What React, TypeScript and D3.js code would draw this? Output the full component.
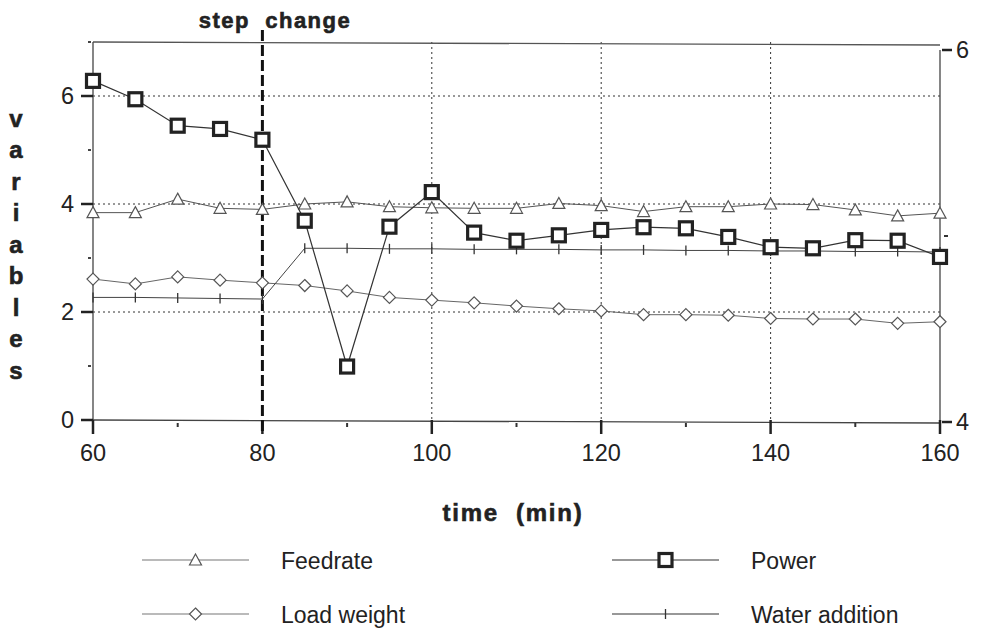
import React from "react";
import * as d3 from "d3";

const times = [60, 65, 70, 75, 80, 85, 90, 95, 100, 105, 110, 115, 120, 125, 130, 135, 140, 145, 150, 155, 160];
const power = [6.28, 5.94, 5.45, 5.39, 5.19, 3.69, 0.99, 3.58, 4.22, 3.47, 3.32, 3.42, 3.52, 3.57, 3.55, 3.39, 3.2, 3.18, 3.33, 3.32, 3.02];
const feedrate = [3.84, 3.84, 4.09, 3.92, 3.9, 4.0, 4.04, 3.95, 3.93, 3.92, 3.92, 4.01, 3.97, 3.86, 3.95, 3.95, 4.0, 3.99, 3.89, 3.78, 3.83];
const loadWeight = [2.61, 2.52, 2.65, 2.59, 2.54, 2.49, 2.39, 2.27, 2.22, 2.17, 2.11, 2.06, 2.02, 1.95, 1.95, 1.94, 1.88, 1.87, 1.87, 1.79, 1.82];
const waterAddition = [2.27, 2.27, 2.26, 2.25, 2.24, 3.18, 3.18, 3.17, 3.17, 3.16, 3.16, 3.16, 3.15, 3.15, 3.14, 3.14, 3.13, 3.13, 3.12, 3.12, 3.11];

const xTicksMajor = [60, 80, 100, 120, 140, 160];
const xTicksMinor = [70, 90, 110, 130, 150];
const yTicksMajor = [0, 2, 4, 6];
const yTicksMinor = [1, 3, 5, 7];
const yGrid = [2, 4, 6];
const xGrid = [100, 120, 140];
const rightTicks = [4, 6];
const stepTime = 80;
const yLabelLetters = ["v", "a", "r", "i", "a", "b", "l", "e", "s"];

const legendItems = [
  { name: "Feedrate", marker: "triangle", col: 0, row: 0 },
  { name: "Power", marker: "square", col: 1, row: 0 },
  { name: "Load weight", marker: "diamond", col: 0, row: 1 },
  { name: "Water addition", marker: "tick", col: 1, row: 1 },
];

const FONT = "'Liberation Sans', Arial, Helvetica, sans-serif";

function Marker({ type, x, y }: { type: string; x: number; y: number }) {
  if (type === "square")
    return <rect x={x - 6.5} y={y - 6.5} width={13} height={13} fill="#fff" stroke="#222" strokeWidth={3.2} />;
  if (type === "triangle")
    return (
      <path d={`M${x},${y - 6}L${x + 6},${y + 5}L${x - 6},${y + 5}Z`} fill="#fff" stroke="#555" strokeWidth={1.2} />
    );
  if (type === "diamond")
    return (
      <path d={`M${x},${y - 6}L${x + 6},${y}L${x},${y + 6}L${x - 6},${y}Z`} fill="#fff" stroke="#555" strokeWidth={1.2} />
    );
  return <line x1={x} x2={x} y1={y - 5} y2={y + 5} stroke="#333" strokeWidth={1.3} />;
}

export default function App() {
  const W = 981, H = 632;
  const x = d3.scaleLinear().domain([60, 160]).range([93, 940]);
  const y = d3.scaleLinear().domain([0, 7]).range([420, 42]);
  const yR = d3.scaleLinear().domain([4, 6]).range([422, 50]);

  const line = d3
    .line<[number, number]>()
    .x((d) => x(d[0]))
    .y((d) => y(d[1]));

  const series = [
    { name: "Load weight", vals: loadWeight, marker: "diamond", stroke: "#666", w: 1 },
    { name: "Water addition", vals: waterAddition, marker: "tick", stroke: "#444", w: 1 },
    { name: "Feedrate", vals: feedrate, marker: "triangle", stroke: "#555", w: 1 },
    { name: "Power", vals: power, marker: "square", stroke: "#333", w: 1.2 },
  ];

  return (
    <svg width={W} height={H} style={{ display: "block", position: "absolute", left: 0, top: 0, background: "#fff" }} fontFamily={FONT}>
      <rect x={0} y={0} width={W} height={H} fill="#fff" />
      {yGrid.map((v) => (
        <line key={"yg" + v} x1={x(60)} x2={x(160)} y1={y(v)} y2={y(v)} stroke="#333" strokeWidth={1} strokeDasharray="2,3" />
      ))}
      {xGrid.map((v) => (
        <line key={"xg" + v} x1={x(v)} x2={x(v)} y1={y(7)} y2={y(0)} stroke="#333" strokeWidth={1} strokeDasharray="2,3" />
      ))}
      <line x1={x(60)} x2={x(160)} y1={y(7)} y2={y(7) + 3} stroke="#555" strokeWidth={1.3} />
      <line x1={x(60)} x2={x(160)} y1={y(0)} y2={y(0) + 3} stroke="#444" strokeWidth={1.3} />
      <line x1={x(60)} x2={x(60)} y1={y(7)} y2={y(0)} stroke="#444" strokeWidth={1.3} />
      <line x1={x(160)} x2={x(160)} y1={yR(6)} y2={y(0) + 3} stroke="#444" strokeWidth={1.3} />
      {yTicksMajor.map((v) => (
        <g key={"yt" + v}>
          <line x1={x(60) - 12} x2={x(60)} y1={y(v)} y2={y(v)} stroke="#222" strokeWidth={2.5} />
          <text x={x(60) - 19} y={y(v)} dy="0.36em" textAnchor="end" fontSize={23.5} fill="#222">
            {v}
          </text>
        </g>
      ))}
      {yTicksMinor.map((v) => (
        <line key={"ym" + v} x1={x(60) - 5} x2={x(60) - 2} y1={y(v)} y2={y(v)} stroke="#444" strokeWidth={2} />
      ))}
      {xTicksMajor.map((v) => (
        <g key={"xt" + v}>
          <line x1={x(v)} x2={x(v)} y1={y(0)} y2={y(0) + 14} stroke="#222" strokeWidth={2.5} />
          <text x={x(v)} y={y(0) + 33} dy="0.36em" textAnchor="middle" fontSize={23.5} fill="#222">
            {v}
          </text>
        </g>
      ))}
      {xTicksMinor.map((v) => (
        <line key={"xm" + v} x1={x(v)} x2={x(v)} y1={y(0) + 3} y2={y(0) + 7} stroke="#333" strokeWidth={2} />
      ))}
      {rightTicks.map((v) => (
        <g key={"rt" + v}>
          <line x1={x(160) + 2} x2={x(160) + 12} y1={yR(v)} y2={yR(v)} stroke="#222" strokeWidth={2.5} />
          <text x={x(160) + 16} y={yR(v)} dy="0.36em" textAnchor="start" fontSize={23.5} fill="#222">
            {v}
          </text>
        </g>
      ))}
      <line x1={x(160) + 4} x2={x(160) + 8} y1={yR(5)} y2={yR(5)} stroke="#333" strokeWidth={2} />
      <line x1={x(stepTime)} x2={x(stepTime)} y1={30} y2={y(0) + 12} stroke="#111" strokeWidth={3} strokeDasharray="11,4" />
      <text x={275} y={20} dy="0.36em" textAnchor="middle" fontSize={22} fontWeight="bold" letterSpacing={1.5} fill="#222" stroke="#222" strokeWidth={0.6} style={{ whiteSpace: "pre" }}>
        {"step  change"}
      </text>
      {series.map((s) => {
        const pts = times.map((t, i) => [t, s.vals[i]] as [number, number]);
        return (
          <g key={s.name}>
            <path d={line(pts) || ""} fill="none" stroke={s.stroke} strokeWidth={s.w} />
            {pts.map((p, i) => (
              <Marker key={i} type={s.marker} x={x(p[0])} y={y(p[1])} />
            ))}
          </g>
        );
      })}
      {yLabelLetters.map((c, i) => (
        <text key={"yl" + i} x={16} y={118 + i * 31.5} dy="0.36em" textAnchor="middle" fontSize={24} fontWeight="bold" fill="#222" stroke="#222" strokeWidth={0.6}>
          {c}
        </text>
      ))}
      <text x={513} y={512} dy="0.36em" textAnchor="middle" fontSize={24} fontWeight="bold" letterSpacing={1.8} fill="#222" stroke="#222" strokeWidth={0.6} style={{ whiteSpace: "pre" }}>
        {"time  (min)"}
      </text>
      {legendItems.map((it) => {
        const lx0 = it.col === 0 ? 142 : 612;
        const lx1 = lx0 + 107;
        const ly = it.row === 0 ? 560 : 614;
        const mx = (lx0 + lx1) / 2;
        return (
          <g key={it.name}>
            <line x1={lx0} x2={lx1} y1={ly} y2={ly} stroke={it.col === 0 ? "#777" : "#333"} strokeWidth={1.2} />
            <Marker type={it.marker} x={mx} y={ly} />
            <text x={it.col === 0 ? 281 : 751} y={ly + 1} dy="0.36em" fontSize={23} fill="#222">
              {it.name}
            </text>
          </g>
        );
      })}
    </svg>
  );
}
